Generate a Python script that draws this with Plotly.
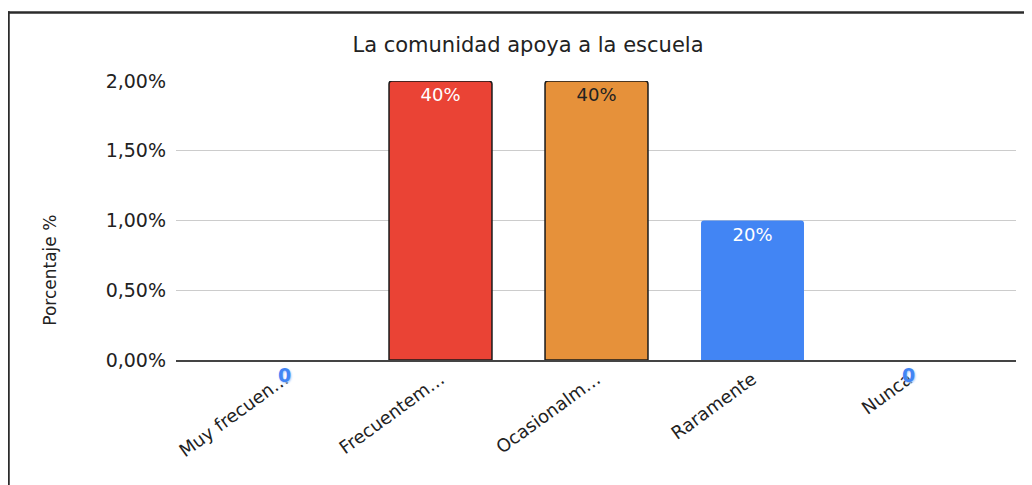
import plotly.graph_objects as go

categories = ["Muy frecuentemente", "Frecuentemente", "Ocasionalmente", "Raramente", "Nunca"]
tick_labels = ["Muy frecuen…", "Frecuentem…", "Ocasionalm…", "Raramente", "Nunca"]
values = [0, 0.02, 0.02, 0.01, 0]
bar_labels = ["", "40%", "40%", "20%", ""]
zero_labels = ["0", "", "", "", "0"]
bar_colors = ["#EA4335", "#EA4335", "#E6913A", "#4285F4", "#4285F4"]
label_colors = ["#FFFFFF", "#FFFFFF", "#222222", "#FFFFFF", "#FFFFFF"]
outline_colors = ["#1a1a1a", "#1a1a1a", "#1a1a1a", "#4285F4", "#4285F4"]
outline_widths = [0, 1.5, 1.5, 0, 0]

FONT = "DejaVu Sans, Arial, sans-serif"

fig = go.Figure()
fig.add_trace(go.Bar(
    x=categories,
    y=values,
    width=0.66,
    marker=dict(color=bar_colors, line=dict(color=outline_colors, width=outline_widths), cornerradius=3),
    text=bar_labels,
    textposition="inside",
    insidetextanchor="end",
    textangle=0,
    textfont=dict(family=FONT, size=18, color=label_colors),
    cliponaxis=False,
    hoverinfo="skip",
))

for cat, lab in zip(categories, zero_labels):
    if lab:
        fig.add_annotation(x=cat, y=0, text=lab, showarrow=False, yshift=-15,
                           font=dict(family=FONT, size=19, color="#4285F4", weight="bold",
                                     shadow="1px 1px 2px #A9C8FB"))

fig.add_annotation(xref="paper", yref="paper", x=-0.15, y=0.32, xanchor="center", yanchor="middle",
                   text="Porcentaje %", textangle=-90, showarrow=False,
                   font=dict(family=FONT, size=17, color="#222222"))

# decorative frame (top and left edges visible)
fig.add_shape(type="line", xref="paper", yref="paper", x0=-0.2, x1=1.1, y0=1.2455, y1=1.2455,
              line=dict(color="#2b2b2b", width=2.5))
fig.add_shape(type="line", xref="paper", yref="paper", x0=-0.1994, x1=-0.1994, y0=1.25, y1=-0.6,
              line=dict(color="#2b2b2b", width=2.5))

fig.update_layout(
    width=1024, height=477,
    margin=dict(l=168, r=16, t=73, b=125),
    paper_bgcolor="white", plot_bgcolor="white",
    separators=",.",
    showlegend=False,
    title=dict(text="La comunidad apoya a la escuela", x=520/1024, xanchor="center",
               y=1 - 37/477, yanchor="middle", yref="container",
               font=dict(family=FONT, size=21, color="#222222")),
    font=dict(family=FONT, color="#222222"),
)
fig.update_xaxes(
    range=[-0.6955, 4.689],
    tickmode="array", tickvals=categories, ticktext=tick_labels,
    tickangle=-36, tickfont=dict(family=FONT, size=18, color="#222222"),
    showline=True, linecolor="#444444", linewidth=1.5,
    showgrid=False, ticks="", zeroline=False,
)
fig.update_yaxes(
    range=[0, 0.02], dtick=0.005, tickformat=".2%",
    tickfont=dict(family=FONT, size=19, color="#222222"),
    showgrid=True, gridcolor="#CCCCCC", gridwidth=1,
    zeroline=False, ticks="", ticklabelstandoff=9,
)

fig.write_html("out.html")
